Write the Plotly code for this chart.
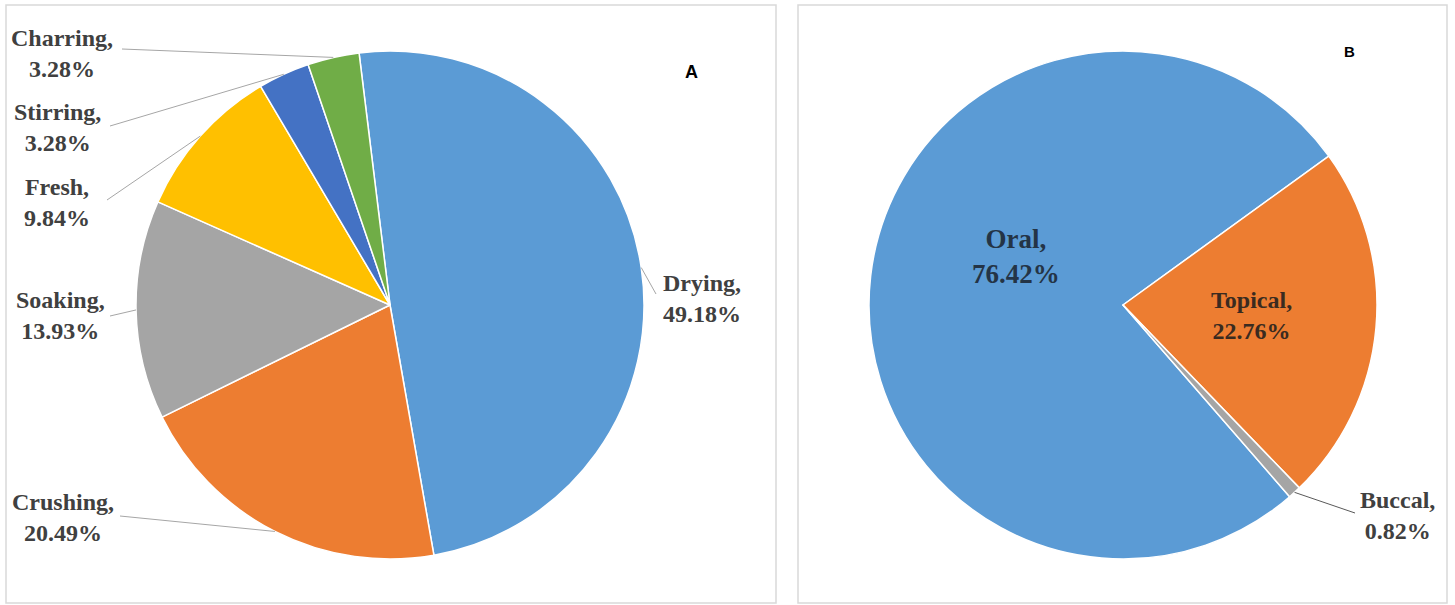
import math
import plotly.graph_objects as go

# ---- data ----
methods = ["Drying", "Crushing", "Soaking", "Fresh", "Stirring", "Charring"]
method_pct = [49.18, 20.49, 13.93, 9.84, 3.28, 3.28]
routes = ["Oral", "Topical", "Buccal"]
route_pct = [76.42, 22.76, 0.82]

# ---- styling / layout ----
W, H = 1455, 605
colors_a = ["#5B9BD5", "#ED7D31", "#A5A5A5", "#FFC000", "#4472C4", "#70AD47"]
colors_b = ["#5B9BD5", "#ED7D31", "#A5A5A5"]
rot_a, rot_b = -7, 139
cen_a, cen_b, R = (390, 305), (1123, 305), 254
FONT = "Liberation Serif"
LBL = "#404040"
LEAD = "#A6A6A6"


def px(x):
    return x / W


def py(y):
    return 1 - y / H


def dom(c):
    return dict(x=[px(c[0] - R), px(c[0] + R)], y=[py(c[1] + R), py(c[1] - R)])


def mid_points(vals, rot, c):
    tot = sum(vals)
    out, cum = [], 0
    for v in vals:
        a = math.radians(rot + 360 * (cum + v / 2) / tot)
        out.append((c[0] + R * math.sin(a), c[1] - R * math.cos(a)))
        cum += v
    return out


fig = go.Figure()
fig.add_trace(go.Pie(labels=methods, values=method_pct, sort=False, direction="clockwise",
                     rotation=rot_a, textinfo="none", hoverinfo="label+percent",
                     marker=dict(colors=colors_a, line=dict(color="white", width=1.5)),
                     domain=dom(cen_a), showlegend=False))
fig.add_trace(go.Pie(labels=routes, values=route_pct, sort=False, direction="clockwise",
                     rotation=rot_b, textinfo="none", hoverinfo="label+percent",
                     marker=dict(colors=colors_b, line=dict(color="white", width=1.5)),
                     domain=dom(cen_b), showlegend=False))

shapes = [
    dict(type="rect", xref="paper", yref="paper", x0=px(6), x1=px(776), y0=py(603), y1=py(5),
         line=dict(color="#D9D9D9", width=1.5), fillcolor="rgba(0,0,0,0)", layer="below"),
    dict(type="rect", xref="paper", yref="paper", x0=px(798), x1=px(1447), y0=py(603), y1=py(5),
         line=dict(color="#D9D9D9", width=1.5), fillcolor="rgba(0,0,0,0)", layer="below"),
]
annotations = []

# label positions (centre of text block) and leader-line end near the label
lab_a = {
    "Drying": ((702, 298), (656, 294)),
    "Crushing": ((63, 517), (120, 516)),
    "Soaking": ((60, 315), (110, 316)),
    "Fresh": ((57, 202), (107, 200)),
    "Stirring": ((58, 127), (110, 126)),
    "Charring": ((62, 53), (122, 49)),
}
mids_a = mid_points(method_pct, rot_a, cen_a)
for name, v, m in zip(methods, method_pct, mids_a):
    (tx, ty), (lx, ly) = lab_a[name]
    shapes.append(dict(type="line", xref="paper", yref="paper", x0=px(m[0]), y0=py(m[1]),
                       x1=px(lx), y1=py(ly), line=dict(color=LEAD, width=1)))
    annotations.append(dict(x=px(tx), y=py(ty), xref="paper", yref="paper",
                            text=f"{name},<br>{v:.2f}%", showarrow=False,
                            xanchor="center", yanchor="middle", align="center",
                            font=dict(family=FONT, size=24, color=LBL, weight="bold")))

mids_b = mid_points(route_pct, rot_b, cen_b)
lab_b = {
    "Oral": ((1016, 256), None, "#243446", 27),
    "Topical": ((1251, 315), None, "#3A2B20", 24),
    "Buccal": ((1397, 515), (1355, 513), LBL, 24),
}
for name, v, m in zip(routes, route_pct, mids_b):
    (tx, ty), lead, col, fs = lab_b[name]
    if lead:
        shapes.append(dict(type="line", xref="paper", yref="paper", x0=px(m[0]), y0=py(m[1]),
                           x1=px(lead[0]), y1=py(lead[1]), line=dict(color="#595959", width=1)))
    annotations.append(dict(x=px(tx), y=py(ty), xref="paper", yref="paper",
                            text=f"{name},<br>{v:.2f}%", showarrow=False,
                            xanchor="center", yanchor="middle", align="center",
                            font=dict(family=FONT, size=fs, color=col, weight="bold")))

annotations.append(dict(x=px(691), y=py(72), xref="paper", yref="paper", text="A", showarrow=False,
                        xanchor="center", yanchor="middle",
                        font=dict(family="Liberation Sans", size=18, color="#000000", weight="bold")))
annotations.append(dict(x=px(1349), y=py(52), xref="paper", yref="paper", text="B", showarrow=False,
                        xanchor="center", yanchor="middle",
                        font=dict(family="Liberation Sans", size=15, color="#000000", weight="bold")))

fig.update_layout(width=W, height=H, margin=dict(l=0, r=0, t=0, b=0),
                  paper_bgcolor="white", plot_bgcolor="white",
                  shapes=shapes, annotations=annotations)
fig.write_html("out.html")
